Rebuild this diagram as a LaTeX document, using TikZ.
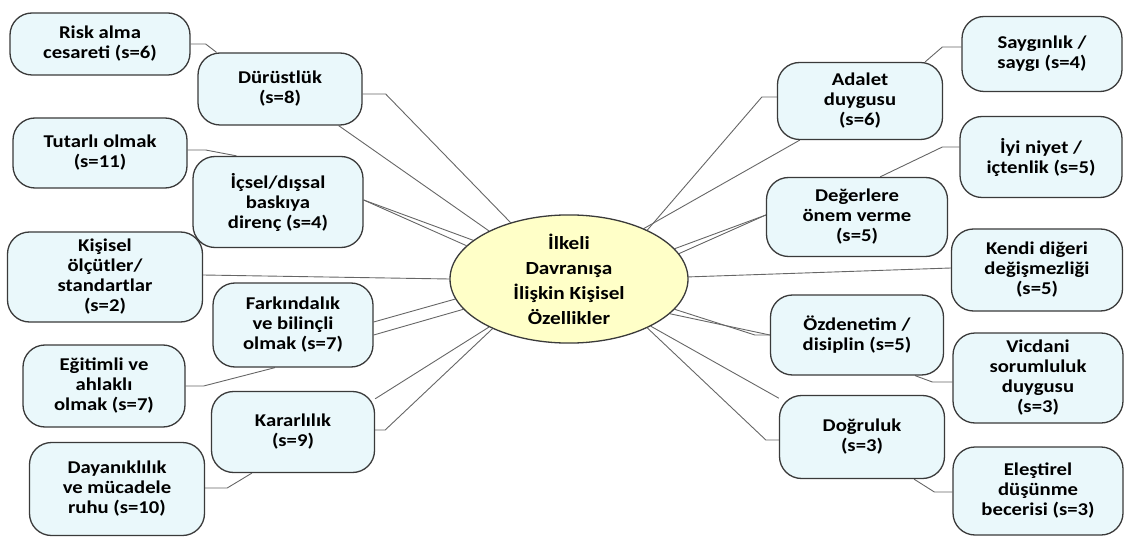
\documentclass[tikz,border=0pt]{standalone}
\usepackage{fontspec}
\setmainfont{Carlito}[FakeStretch=1.15]
\usetikzlibrary{shapes.geometric,backgrounds}
\definecolor{boxfill}{HTML}{EAF8FB}
\definecolor{boxline}{HTML}{3A3A3A}
\definecolor{ellfill}{HTML}{FFFFC8}
\definecolor{conn}{HTML}{666666}
\begin{document}
\begin{tikzpicture}[x=1pt,y=-1pt,
  box/.style={draw=boxline,line width=1.3pt,fill=boxfill,rounded corners=22pt,
    align=center,inner sep=2pt,font=\fontsize{18}{20}\selectfont\bfseries},
  hub/.style={ellipse,draw=boxline,line width=1.3pt,fill=ellfill,align=center,inner sep=0pt,
    minimum width=238pt,minimum height=128pt,font=\fontsize{18.5}{25}\selectfont\bfseries},
  link/.style={draw=conn,line width=0.9pt}]
\useasboundingbox (0,0) rectangle (1134,537);
% centre
\node[hub] (c) at (569,279) {İlkeli\\Davranışa\\İlişkin Kişisel\\Özellikler};
% left
\node[box,minimum width=180pt,minimum height=62pt] (risk) at (100,44) {Risk alma\\cesareti (s=6)};
\node[box,minimum width=164pt,minimum height=72pt] (dur) at (280,89) {Dürüstlük\\(s=8)};
\node[box,minimum width=174pt,minimum height=70pt] (tut) at (100,153) {Tutarlı olmak\\(s=11)};
\node[box,minimum width=170pt,minimum height=91pt] (icsel) at (278,202) {İçsel/dışsal\\baskıya\\direnç (s=4)};
\node[box,minimum width=195pt,minimum height=90pt] (kis) at (105,277) {Kişisel\\ölçütler/\\standartlar\\(s=2)};
\node[box,minimum width=160pt,minimum height=84pt] (fark) at (293,325) {Farkındalık\\ve bilinçli\\olmak (s=7)};
\node[box,minimum width=162pt,minimum height=82pt] (egit) at (104,386) {Eğitimli ve\\ahlaklı\\olmak (s=7)};
\node[box,minimum width=163pt,minimum height=81pt] (karar) at (293,432) {Kararlılık\\(s=9)};
\node[box,minimum width=175pt,minimum height=93pt] (dayan) at (117,489) {Dayanıklılık\\ve mücadele\\ruhu (s=10)};
% right
\node[box,minimum width=160pt,minimum height=75pt] (sayg) at (1042,54) {Saygınlık /\\saygı (s=4)};
\node[box,minimum width=165pt,minimum height=77pt] (adalet) at (860,101) {Adalet\\duygusu\\(s=6)};
\node[box,minimum width=162pt,minimum height=81pt] (iyi) at (1041,157) {İyi niyet /\\içtenlik (s=5)};
\node[box,minimum width=181pt,minimum height=79pt] (deger) at (857,217) {Değerlere\\önem verme\\(s=5)};
\node[box,minimum width=171pt,minimum height=82pt] (kendi) at (1037,270) {Kendi diğeri\\değişmezliği\\(s=5)};
\node[box,minimum width=173pt,minimum height=80pt] (ozd) at (857,335) {Özdenetim /\\disiplin (s=5)};
\node[box,minimum width=170pt,minimum height=90pt] (vic) at (1038,378) {Vicdani\\sorumluluk\\duygusu\\(s=3)};
\node[box,minimum width=165pt,minimum height=83pt] (dog) at (862,437) {Doğruluk\\(s=3)};
\node[box,minimum width=170pt,minimum height=88pt] (eles) at (1038,491) {Eleştirel\\düşünme\\becerisi (s=3)};
\begin{scope}[on background layer]
% left connectors
\draw[link] (risk.east) -- ++(15,0) -- (dur.150);
\draw[link] ([yshift=-5pt]dur.east) -- ++(23,0) -- (c.136);
\draw[link] (dur.-32) -- (c.149);
\draw[link] ([yshift=3pt]tut.east) -- ++(18,0) -- (icsel.132);
\draw[link] ([yshift=2pt]icsel.east) -- (c.158);
\draw[link] ([yshift=2pt]icsel.east) -- (c.162);
\draw[link] ([yshift=2pt]kis.east) -- (c.180);
\draw[link] ([yshift=3pt]fark.east) -- (c.190);
\draw[link] ([yshift=-10pt]fark.east) -- (c.196);
\draw[link] (egit.east) -- ++(18,0) -- (fark.-113);
\draw[link] (karar.22) -- (c.211);
\draw[link] ([yshift=2pt]karar.east) -- ++(10,0) -- (c.213);
\draw[link] ([yshift=1pt]dayan.east) -- ++(22,0) -- (karar.-135);
% right connectors
\draw[link] ([yshift=7pt]sayg.west) -- ++(-19,0) -- (adalet.31.4);
\draw[link] ([yshift=4pt]adalet.west) -- ++(-15,0) -- (c.32);
\draw[link] (adalet.-147) -- (c.34);
\draw[link] ([yshift=10pt]iyi.west) -- ++(-17,0) -- (deger.60);
\draw[link] ([yshift=2pt]deger.west) -- (c.13);
\draw[link] ([yshift=2pt]deger.west) -- (c.16);
\draw[link] ([yshift=2pt]kendi.west) -- (c.1);
\draw[link] (ozd.west) -- ++(-15,0) -- (c.-16);
\draw[link] (ozd.west) -- (c.-19);
\draw[link] ([yshift=-4pt]vic.west) -- ++(-20,0) -- (ozd.-35.5);
\draw[link] (dog.155) -- (c.-30);
\draw[link] ([yshift=-3pt]dog.west) -- ++(-13,0) -- (c.-32.5);
\draw[link] ([yshift=-1pt]eles.west) -- ++(-18,0) -- (dog.-39);
\end{scope}
\end{tikzpicture}
\end{document}
